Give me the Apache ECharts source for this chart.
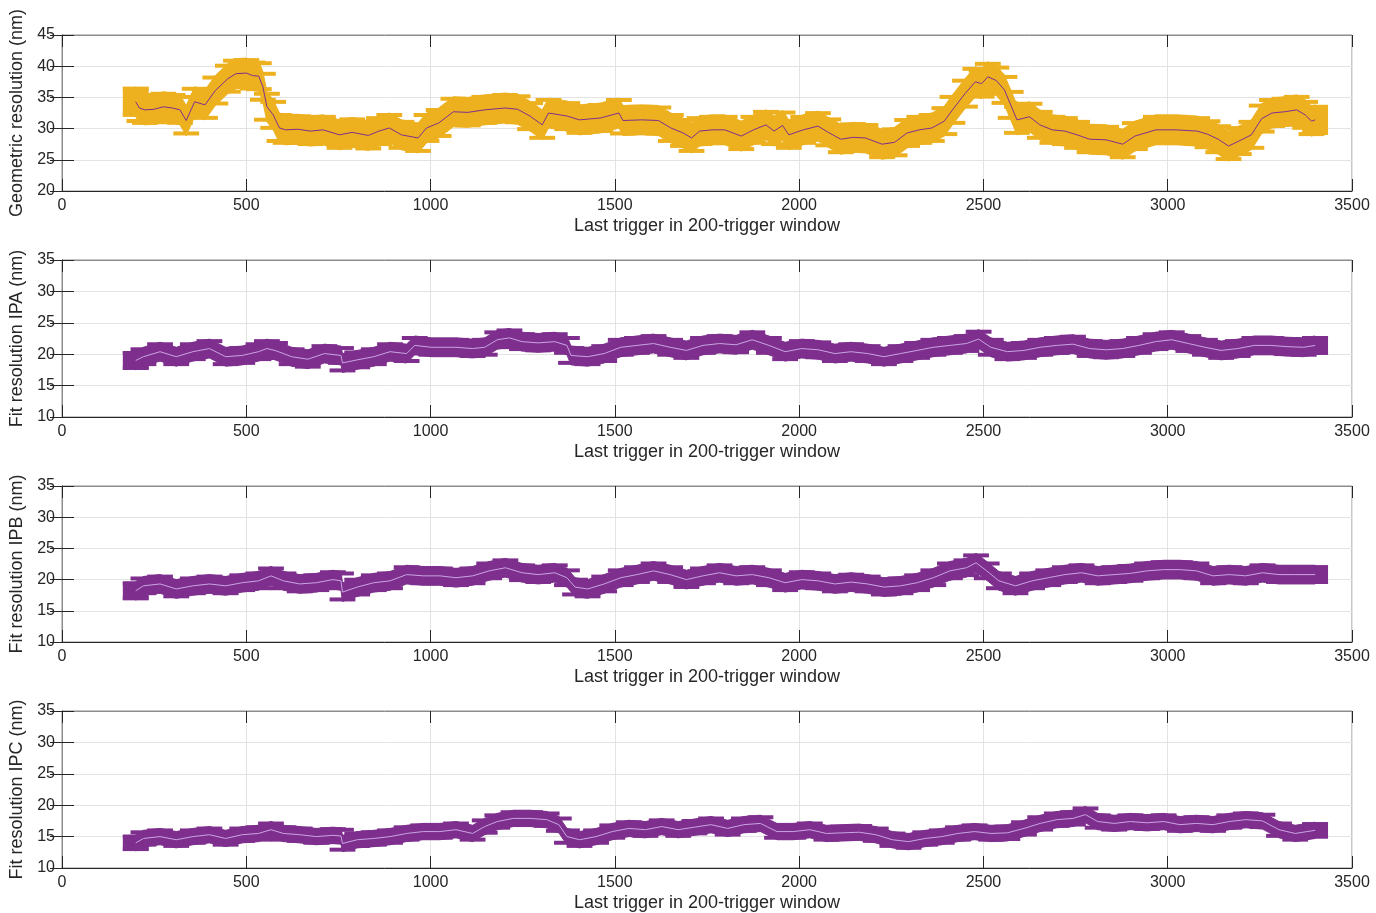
<!DOCTYPE html>
<html>
<head>
<meta charset="utf-8">
<script src="https://cdn.jsdelivr.net/npm/echarts@6/dist/echarts.min.js"></script>
<style>
html, body { margin: 0; padding: 0; background: #fff; }
#main { width: 1376px; height: 913px; }
</style>
</head>
<body>
<div id="main"></div>
<script>
// window end trigger / resolution (nm)
var xTicks = [0, 500, 1000, 1500, 2000, 2500, 3000, 3500];

var geoX = [200,210,225,250,275,300,320,337,360,388,416,450,472,500,517,534,545,556,573,590,
    607,640,674,708,753,787,831,860,888,921,966,989,1022,1062,1101,1146,1202,1236,1270,1303,
    1320,1371,1404,1461,1511,1522,1573,1618,1652,1685,1708,1730,1764,1798,1843,1876,1910,1932,1955,1972,
    2011,2051,2079,2113,2146,2180,2225,2259,2293,2326,2360,2394,2416,2450,2478,2495,2512,2535,2557,2574,
    2591,2625,2653,2687,2721,2754,2788,2833,2878,2911,2968,3023,3080,3108,3137,3165,3193,3227,3255,3283,
    3317,3350,3373,3390,3400];
var geoY = [34.3,33.3,33.0,33.1,33.5,33.3,33.0,31.3,34.3,33.8,36.1,38.0,38.8,38.9,38.5,38.4,36.7,33.5,32.2,30.1,
    29.8,29.9,29.6,29.8,29.0,29.4,28.9,29.6,30.1,29.0,28.5,30.1,30.9,32.7,32.6,33.0,33.3,33.1,32.0,30.6,
    32.5,32.0,31.4,31.7,32.5,31.3,31.4,31.3,30.1,29.3,28.5,29.6,29.8,29.8,28.8,29.8,30.6,29.6,30.5,29.0,
    29.8,30.4,29.4,28.3,28.6,28.5,27.5,27.8,29.3,29.8,30.1,31.2,33.0,35.6,37.5,37.2,38.3,37.7,36.2,33.8,
    31.4,31.9,30.6,29.8,29.6,29.0,28.3,28.2,27.5,28.8,29.8,29.8,29.6,29.1,28.3,27.2,28.0,29.0,31.6,32.5,
    32.7,33.0,32.2,31.2,31.4];

var ipaX = [200,221,266,310,355,400,444,489,533,556,578,623,667,712,757,761,801,846,890,935,
    957,1002,1069,1114,1147,1181,1214,1248,1292,1337,1370,1381,1426,1471,1516,1560,1605,1650,1694,1739,
    1784,1829,1873,1918,1962,2007,2052,2097,2141,2186,2230,2275,2320,2364,2409,2454,2487,2520,2565,2610,
    2654,2699,2743,2788,2833,2877,2922,2967,3011,3056,3101,3145,3190,3235,3280,3324,3369,3400];
var ipaY = [19.0,19.6,20.4,19.6,20.4,20.9,19.6,19.8,20.4,20.9,20.6,19.6,19.2,20.1,19.8,18.6,19.1,19.6,20.4,20.1,
    21.4,21.1,21.1,20.9,21.1,22.3,22.6,22.0,21.8,22.0,21.4,19.8,19.6,20.1,21.1,21.4,21.7,21.1,20.6,21.4,
    21.7,21.5,22.3,21.4,20.4,20.9,20.7,20.1,20.4,20.1,19.6,20.1,20.6,21.1,21.4,21.7,22.4,21.1,20.4,20.6,
    21.1,21.4,21.6,20.9,20.7,20.9,21.4,22.0,22.3,21.7,21.1,20.6,20.9,21.4,21.4,21.2,21.1,21.4];

var ipbX = [200,221,266,310,355,400,444,489,533,567,601,645,690,735,757,761,801,846,890,935,
    980,1025,1069,1114,1159,1203,1248,1292,1337,1370,1392,1426,1471,1516,1560,1605,1650,1694,1739,1784,
    1829,1873,1918,1962,2007,2052,2097,2141,2186,2230,2275,2320,2364,2409,2454,2480,2509,2542,2587,2632,
    2676,2721,2766,2810,2855,2899,2944,2989,3033,3078,3123,3167,3212,3257,3302,3346,3400];
var ipbY = [18.2,19.0,19.3,18.5,19.0,19.3,19.0,19.5,19.8,20.6,19.8,19.3,19.5,20.0,19.8,18.0,18.8,19.5,19.8,20.8,
    20.6,20.6,20.3,20.6,21.4,21.9,21.1,20.8,21.1,20.3,18.8,18.5,19.3,20.3,20.8,21.4,20.8,20.0,20.6,21.1,
    20.6,20.8,20.3,19.5,20.0,19.8,19.3,19.6,19.3,18.8,19.0,19.5,20.3,21.4,21.9,22.7,21.4,19.8,19.0,19.8,
    20.3,20.8,21.1,20.6,20.8,21.0,21.4,21.6,21.6,21.4,20.6,20.8,20.6,21.1,20.8,20.8,20.8];

var ipcX = [200,221,266,310,355,400,444,489,533,567,601,645,690,735,757,761,801,846,890,935,
    980,1025,1069,1114,1147,1181,1225,1270,1315,1348,1370,1404,1449,1493,1538,1583,1627,1672,1716,1761,
    1806,1850,1895,1940,1984,2029,2074,2119,2163,2208,2253,2297,2342,2387,2431,2476,2521,2565,2610,2654,
    2699,2743,2777,2810,2855,2899,2944,2989,3033,3078,3123,3167,3212,3257,3302,3346,3400];
var ipcY = [14.0,14.7,15.0,14.5,15.0,15.3,14.7,15.3,15.5,16.1,15.5,15.3,15.0,15.2,15.1,13.9,14.5,14.7,15.0,15.5,
    15.8,15.8,16.1,15.5,16.6,17.4,17.9,17.9,17.7,16.9,15.0,14.5,15.0,15.8,16.3,16.1,16.6,16.1,16.5,16.9,
    16.3,16.9,17.1,15.8,15.8,16.1,15.5,15.6,15.7,15.3,14.5,14.2,14.7,15.0,15.5,15.8,15.5,15.6,16.3,17.1,
    17.7,17.9,18.5,17.4,17.1,17.4,17.2,17.4,16.9,17.1,16.9,17.4,17.7,17.5,16.1,15.5,16.0];

// half sizes of the error bars (trigger, nm)
var xErr = 35;
var yErr = [2.4, 1.5, 1.5, 1.3];

var xName = 'Last trigger in 200-trigger window';
var panels = [
    {x: geoX, y: geoY, min: 20, max: 45, top: 35, h: 156, band: '#EDB120', line: '#7E2F8E', name: 'Geometric resolution (nm)'},
    {x: ipaX, y: ipaY, min: 10, max: 35, top: 260, h: 157, band: '#7E2F8E', line: '#C9A4E2', name: 'Fit resolution IPA (nm)'},
    {x: ipbX, y: ipbY, min: 10, max: 35, top: 486, h: 156, band: '#7E2F8E', line: '#C9A4E2', name: 'Fit resolution IPB (nm)'},
    {x: ipcX, y: ipcY, min: 10, max: 35, top: 711, h: 157, band: '#7E2F8E', line: '#C9A4E2', name: 'Fit resolution IPC (nm)'}
];

var font = 'Liberation Sans, Arial, sans-serif';
var dark = '#262626';
var plain = function (v) { return String(v); };

var grids = [], xAxes = [], yAxes = [], series = [];

panels.forEach(function (p, i) {
    var pts = [];
    for (var k = 0; k < p.x.length; k++) {
        pts.push([p.x[k], p.y[k]]);
    }
    var e = yErr[i];

    grids.push({left: 62, right: 24, top: p.top, height: p.h, show: true, borderColor: '#8c8c8c', borderWidth: 1});

    xAxes.push({
        gridIndex: i, type: 'value', min: xTicks[0], max: xTicks[xTicks.length - 1], interval: 500,
        name: xName, nameLocation: 'middle', nameGap: 26,
        nameTextStyle: {fontSize: 18, color: dark, fontFamily: font},
        axisLine: {lineStyle: {color: dark}},
        axisTick: {inside: true, length: 12, lineStyle: {color: dark}},
        axisLabel: {fontSize: 16, color: dark, fontFamily: font, margin: 7, formatter: plain},
        splitLine: {show: true, lineStyle: {color: '#e3e3e3'}}
    });
    xAxes.push({
        gridIndex: i, type: 'value', position: 'top', min: xTicks[0], max: xTicks[xTicks.length - 1], interval: 500,
        axisLine: {show: true, lineStyle: {color: '#8c8c8c'}},
        axisTick: {inside: true, length: 12, lineStyle: {color: dark}},
        axisLabel: {show: false},
        splitLine: {show: false}
    });

    yAxes.push({
        gridIndex: i, type: 'value', min: p.min, max: p.max, interval: 5,
        name: p.name, nameLocation: 'middle', nameGap: 34, nameRotate: 90,
        nameTextStyle: {fontSize: 18, color: dark, fontFamily: font},
        axisLine: {show: true, lineStyle: {color: dark}},
        axisTick: {show: true, inside: true, length: 12, lineStyle: {color: dark}},
        axisLabel: {fontSize: 16, color: dark, fontFamily: font, margin: 7, formatter: plain},
        splitLine: {show: true, lineStyle: {color: '#e3e3e3'}}
    });
    yAxes.push({
        gridIndex: i, type: 'value', position: 'right', min: p.min, max: p.max, interval: 5,
        axisLine: {show: true, lineStyle: {color: '#8c8c8c'}},
        axisTick: {show: true, inside: true, length: 12, lineStyle: {color: dark}},
        axisLabel: {show: false},
        splitLine: {show: false}
    });

    // error bars: body between neighbouring points, horizontal caps at y +/- e
    series.push({
        type: 'custom',
        xAxisIndex: 2 * i, yAxisIndex: 2 * i,
        data: pts,
        renderItem: function (params, api) {
            var k = params.dataIndex;
            var x = api.value(0), y = api.value(1);
            var a = api.coord([x - xErr, y + e]);
            var b = api.coord([x + xErr, y - e]);
            var kids = [
                {type: 'rect', shape: {x: a[0], y: a[1], width: b[0] - a[0], height: 4}, style: {fill: p.band}},
                {type: 'rect', shape: {x: a[0], y: b[1] - 4, width: b[0] - a[0], height: 4}, style: {fill: p.band}}
            ];
            if (k === 0 || k === pts.length - 1) {
                kids.push({type: 'rect', shape: {x: a[0], y: a[1], width: b[0] - a[0], height: b[1] - a[1]}, style: {fill: p.band}});
            }
            if (k < pts.length - 1) {
                var n = pts[k + 1];
                kids.push({
                    type: 'polygon',
                    shape: {points: [api.coord([x, y + e]), api.coord([n[0], n[1] + e]), api.coord([n[0], n[1] - e]), api.coord([x, y - e])]},
                    style: {fill: p.band, stroke: p.band, lineWidth: 1}
                });
            }
            return {type: 'group', children: kids};
        },
        z: 2
    });
    series.push({
        type: 'line',
        xAxisIndex: 2 * i, yAxisIndex: 2 * i,
        data: pts,
        showSymbol: false,
        lineStyle: {color: p.line, width: 1},
        z: 3
    });
});

var chart = echarts.init(document.getElementById('main'));
chart.setOption({
    animation: false,
    backgroundColor: '#fff',
    grid: grids,
    xAxis: xAxes,
    yAxis: yAxes,
    series: series
});
</script>
</body>
</html>
